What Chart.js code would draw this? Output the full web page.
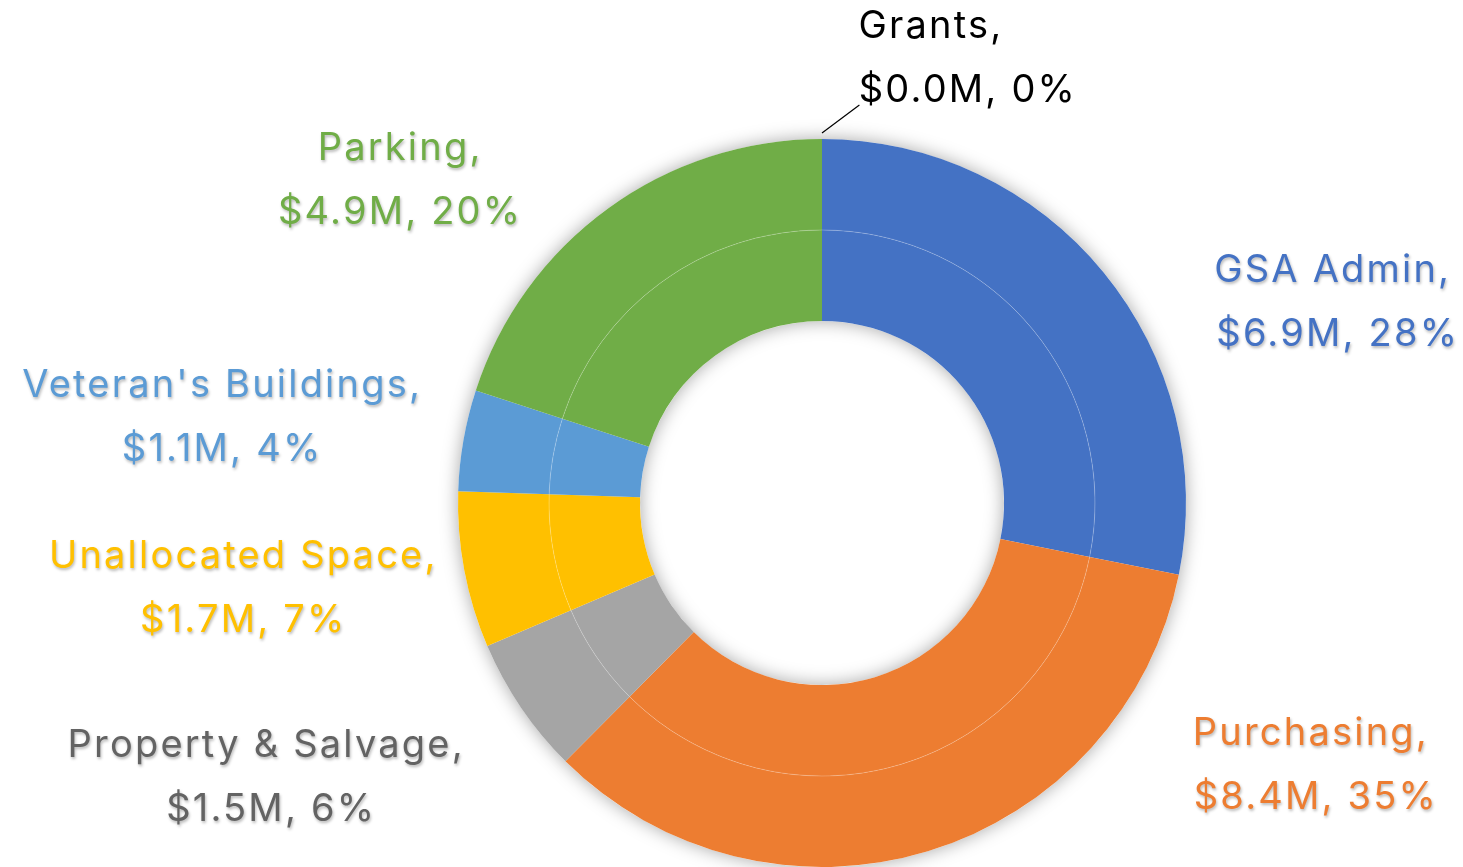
<!DOCTYPE html>
<html>
<head>
<meta charset="utf-8">
<script src="https://cdn.jsdelivr.net/npm/chart.js@4.4.1/dist/chart.umd.min.js"></script>
<style>
  html, body { margin: 0; padding: 0; background: #fff; }
  #wrap { width: 1463px; height: 867px; position: relative; }
</style>
</head>
<body>
<div id="wrap"><canvas id="DonutChart"></canvas></div>
<script>
// budget by division, $M
const categories = ['GSA Admin', 'Purchasing', 'Property & Salvage', 'Unallocated Space', "Veteran's Buildings", 'Parking', 'Grants'];
const amounts = [6.9, 8.4, 1.5, 1.7, 1.1, 4.9, 0.0];
const percentLabels = ['28%', '35%', '6%', '7%', '4%', '20%', '0%'];
const sliceColors = ['#4472C4', '#ED7D31', '#A5A5A5', '#FFC000', '#5B9BD5', '#70AD47', '#264478'];
const textColors = ['#4472C4', '#ED7D31', '#636363', '#FFC000', '#5B9BD5', '#70AD47', '#000000'];

// label centres, offsets from the doughnut centre in units of outer radius
const labelPos = [[1.41, -0.55], [1.35, 0.72], [-1.52, 0.755], [-1.59, 0.234], [-1.648, -0.236], [-1.159, -0.887], [0.35, -1.22]];
const secondLineShift = [5, 5, 5, 0, 0, 0, 37];

const FONT = '38px Inter, "Noto Sans", sans-serif';

const ringShadow = {
    id: 'ringShadow',
    beforeDatasetsDraw(chart) {
        const arc = chart.getDatasetMeta(0).data[0];
        const inner = chart.getDatasetMeta(chart.data.datasets.length - 1).data[0];
        const ctx = chart.ctx;
        ctx.save();
        ctx.beginPath();
        ctx.arc(arc.x, arc.y, arc.outerRadius, 0, Math.PI * 2);
        ctx.arc(arc.x, arc.y, inner.innerRadius, 0, Math.PI * 2, true);
        ctx.fillStyle = '#ffffff';
        ctx.shadowColor = 'rgba(0,0,0,0.35)';
        ctx.shadowBlur = 18;
        ctx.fill('evenodd');
        ctx.restore();
    },
    afterDatasetsDraw(chart) {
        // faint seam between the two rings
        const arc = chart.getDatasetMeta(0).data[0];
        const ctx = chart.ctx;
        ctx.save();
        ctx.beginPath();
        ctx.arc(arc.x, arc.y, arc.innerRadius, 0, Math.PI * 2);
        ctx.strokeStyle = 'rgba(255,255,255,0.22)';
        ctx.lineWidth = 1;
        ctx.stroke();
        ctx.restore();
    }
};

const outsideLabels = {
    id: 'outsideLabels',
    afterDraw(chart) {
        const arc = chart.getDatasetMeta(0).data[0];
        const cx = arc.x, cy = arc.y, R = arc.outerRadius;
        const ctx = chart.ctx;
        ctx.save();
        ctx.font = FONT;
        ctx.letterSpacing = '2.2px';
        ctx.textAlign = 'center';
        ctx.textBaseline = 'middle';
        categories.forEach((name, i) => {
            const x = cx + labelPos[i][0] * R;
            const y = cy + labelPos[i][1] * R;
            const line1 = name + ',';
            const line2 = '$' + amounts[i].toFixed(1) + 'M, ' + percentLabels[i];
            ctx.fillStyle = textColors[i];
            if (i !== categories.length - 1) {
                ctx.shadowColor = 'rgba(0,0,0,0.28)';
                ctx.shadowBlur = 3;
                ctx.shadowOffsetX = 1;
                ctx.shadowOffsetY = 2;
            } else {
                ctx.shadowColor = 'rgba(0,0,0,0)';
            }
            ctx.fillText(line1, x - secondLineShift[i] / 2, y - 32);
            ctx.fillText(line2, x + secondLineShift[i] / 2, y + 32);
        });
        // leader line for the zero slice
        const g = chart.getDatasetMeta(0).data[categories.length - 1];
        ctx.shadowColor = 'rgba(0,0,0,0)';
        ctx.strokeStyle = '#000';
        ctx.lineWidth = 1.2;
        ctx.beginPath();
        const a = g.startAngle;
        ctx.moveTo(cx + Math.cos(a) * (R + 6), cy + Math.sin(a) * (R + 6));
        ctx.lineTo(cx + labelPos[6][0] * R - 90, cy + labelPos[6][1] * R + 46);
        ctx.stroke();
        ctx.restore();
    }
};

function donutChart() {
    const ctx = document.getElementById('DonutChart');
    const ds = () => ({
        data: amounts,
        backgroundColor: sliceColors,
        borderWidth: 0,
        hoverOffset: 0
    });
    new Chart(ctx, {
        type: 'doughnut',
        data: {
            labels: categories,
            datasets: [ds(), ds()]
        },
        options: {
            responsive: true,
            maintainAspectRatio: false,
            animation: false,
            cutout: '50%',
            layout: { padding: { top: 139, bottom: 0, left: 458, right: 277 } },
            plugins: {
                legend: { display: false },
                tooltip: { enabled: false }
            }
        },
        plugins: [ringShadow, outsideLabels]
    });
}

document.fonts.load(FONT).then(donutChart, donutChart);
</script>
</body>
</html>
